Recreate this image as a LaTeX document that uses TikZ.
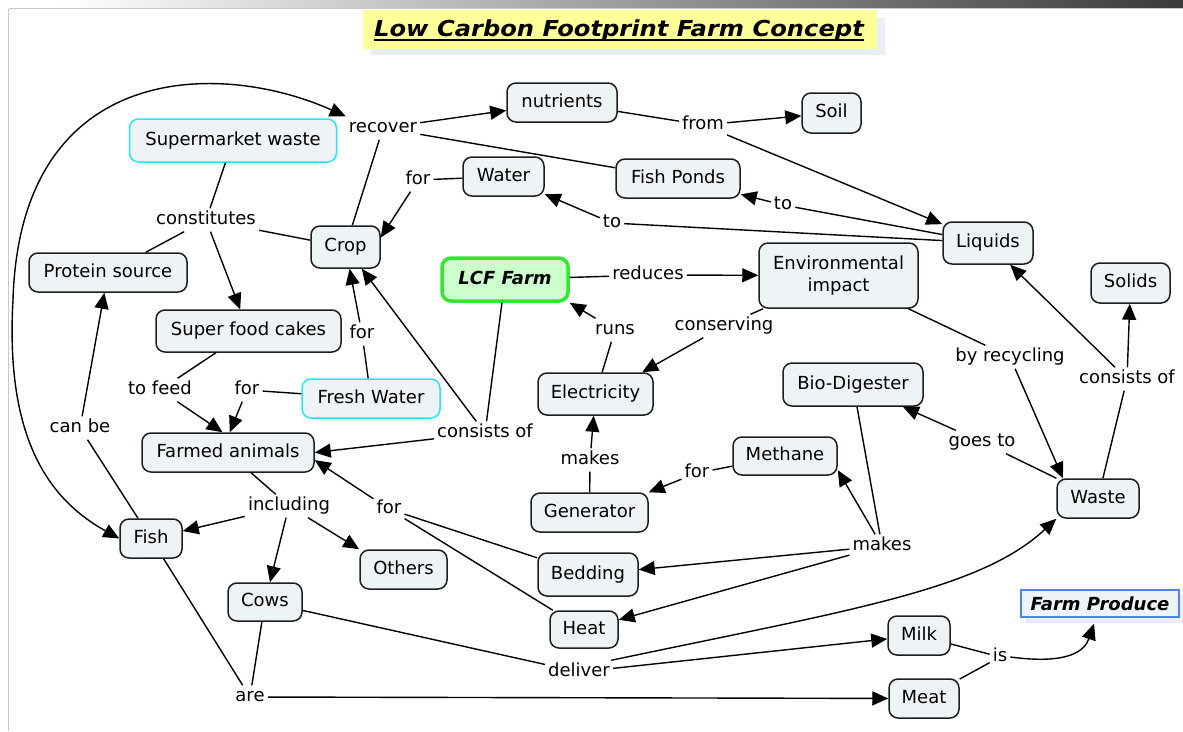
\documentclass[tikz,border=0pt]{standalone}
\usepackage{fontspec}
\setmainfont{DejaVu Sans}[BoldItalicFont={DejaVu Sans Bold Oblique},ItalicFont={DejaVu Sans Oblique},BoldFont={DejaVu Sans Bold}]
\usetikzlibrary{arrows.meta,calc}
\definecolor{nodefill}{RGB}{238,243,246}
\definecolor{bordc}{RGB}{30,30,30}
\definecolor{cyanb}{RGB}{40,228,245}
\definecolor{lcfb}{RGB}{50,230,50}
\definecolor{lcff}{RGB}{204,255,204}
\definecolor{prodb}{RGB}{80,130,240}
\definecolor{shadowc}{RGB}{232,238,243}
\definecolor{titlefill}{RGB}{255,255,153}
\newcommand{\cmfs}{\fontsize{18}{22}\selectfont}
\tikzset{
  cbox/.style={draw=bordc, line width=1.5pt, fill=nodefill, rounded corners=9pt,
    inner sep=2pt, font=\cmfs, text height=13pt, text depth=4pt, align=center},
  cyanbox/.style={cbox, draw=cyanb, line width=1.5pt},
  lbl/.style={inner sep=3pt, font=\cmfs, text height=13pt, text depth=4pt},
  ln/.style={line width=1.4pt, draw=black},
  arr/.style={ln, -{Triangle[length=16pt,width=14pt]}},
  dbl/.style={ln, {Triangle[length=16pt,width=14pt]}-{Triangle[length=16pt,width=14pt]}}
}
\begin{document}
\begin{tikzpicture}[x=1pt,y=-1pt]
\useasboundingbox (0,0) rectangle (1183,731);
\fill[white] (0,0) rectangle (1183,731);
% top bar and frame
\shade[left color=white, right color={rgb,255:red,58;green,58;blue,58}] (60,0) rectangle (1183,7.5);
\draw[line width=1.5pt, color={rgb,255:red,200;green,200;blue,200}] (8.5,8.5) -- (1183,8.5);
\draw[line width=1.5pt, color={rgb,255:red,200;green,200;blue,200}] (8.5,8.5) -- (8.5,731);
% title
\fill[shadowc] (371,18) rectangle (885,55);
\fill[titlefill] (363,10) rectangle (877,49);
\node[anchor=base, inner sep=0pt, font=\fontsize{22}{26}\selectfont\bfseries\itshape] (title) at (619,36) {\scalebox{1.1}[1]{Low Carbon Footprint Farm Concept}};
\draw[line width=2pt] ($(title.base west)+(0,3.5)$) -- ($(title.base east)+(0,3.5)$);

% concepts
\node[cyanbox, minimum width=207pt, minimum height=43pt] (sw) at (233,140.5) {Supermarket waste};
\node[cbox, minimum width=110pt, minimum height=39pt] (nut) at (562,102.5) {nutrients};
\node[cbox, minimum width=59pt, minimum height=40pt] (soil) at (831.5,113) {Soil};
\node[cbox, minimum width=81pt, minimum height=39pt] (water) at (503.5,176.5) {Water};
\node[cbox, minimum width=124pt, minimum height=39pt] (fp) at (678,178.5) {Fish Ponds};
\node[cbox, minimum width=69pt, minimum height=42pt] (crop) at (345.5,247) {Crop};
\node[cbox, minimum width=90pt, minimum height=42pt] (liq) at (988,243) {Liquids};
\node[cbox, minimum width=158pt, minimum height=39pt] (prot) at (108,272.5) {Protein source};
\node[cbox, draw=lcfb, fill=lcff, line width=3.5pt, minimum width=126pt, minimum height=43pt, font=\cmfs\bfseries\itshape] (lcf) at (505,279.5) {LCF Farm};
\node[cbox, minimum width=159pt, minimum height=65pt, text height=, text depth=] (env) at (838.5,275.5) {Environmental\\impact};
\node[cbox, minimum width=79pt, minimum height=40pt] (solids) at (1130.5,283) {Solids};
\node[cbox, minimum width=185pt, minimum height=42pt] (sfc) at (248.5,331) {Super food cakes};
\node[cyanbox, minimum width=138pt, minimum height=39pt] (fw) at (371,398.5) {Fresh Water};
\node[cbox, minimum width=115pt, minimum height=42pt] (elec) at (595.5,394) {Electricity};
\node[cbox, minimum width=140pt, minimum height=43pt] (bio) at (853,384.5) {Bio-Digester};
\node[cbox, minimum width=172pt, minimum height=39pt] (farm) at (228,452.5) {Farmed animals};
\node[cbox, minimum width=104pt, minimum height=38pt] (meth) at (785,456) {Methane};
\node[cbox, minimum width=82pt, minimum height=39pt] (waste) at (1098,498.5) {Waste};
\node[cbox, minimum width=117pt, minimum height=39pt] (gen) at (589.5,512.5) {Generator};
\node[cbox, minimum width=62pt, minimum height=39pt] (fish) at (151,538.5) {Fish};
\node[cbox, minimum width=100pt, minimum height=43pt] (bed) at (588,574.5) {Bedding};
\node[cbox, minimum width=87pt, minimum height=39pt] (oth) at (403.5,569.5) {Others};
\node[cbox, minimum width=74pt, minimum height=38pt] (cows) at (265,602) {Cows};
\fill[shadowc] (1026,595) rectangle (1184,623);
\node[draw=prodb, line width=1.5pt, fill=nodefill, inner sep=2pt, minimum width=158pt, minimum height=27pt, font=\cmfs\bfseries\itshape] (fprod) at (1100,603.5) {Farm Produce};
\node[cbox, minimum width=68pt, minimum height=37pt] (heat) at (584,629.5) {Heat};
\node[cbox, minimum width=62pt, minimum height=39pt] (milk) at (919,635.5) {Milk};
\node[cbox, minimum width=70pt, minimum height=39pt] (meat) at (924,698.5) {Meat};

% linking phrases
\node[lbl] (recover) at (383,128) {recover};
\node[lbl] (from) at (703,125) {from};
\node[lbl] (for1) at (418,180) {for};
\node[lbl] (to1) at (783,205) {to};
\node[lbl] (to2) at (612,223) {to};
\node[lbl] (constitutes) at (206,220) {constitutes};
\node[lbl] (reduces) at (648,275) {reduces};
\node[lbl] (runs) at (615,330) {runs};
\node[lbl] (conserving) at (724,326) {conserving};
\node[lbl] (byrec) at (1010,357) {by recycling};
\node[lbl] (cons2) at (1127,379) {consists of};
\node[lbl] (tofeed) at (160,390) {to feed};
\node[lbl] (for4) at (247,390) {for};
\node[lbl] (for5) at (362,334) {for};
\node[lbl] (canbe) at (80,428) {can be};
\node[lbl] (cons1) at (485,433) {consists of};
\node[lbl] (goesto) at (982,442) {goes to};
\node[lbl] (makes1) at (590,460) {makes};
\node[lbl] (for3) at (697,473) {for};
\node[lbl] (including) at (289,506) {including};
\node[lbl] (for6) at (389,509) {for};
\node[lbl] (makes2) at (882,546) {makes};
\node[lbl] (deliver) at (579,672) {deliver};
\node[lbl] (is) at (1000,657) {is};
\node[lbl] (are) at (250,697) {are};

% connectors
\draw[ln] (crop) -- (recover);
\draw[arr] (recover) -- (nut);
\draw[ln] (recover) -- (fp);
\draw[ln] (nut) -- (from);
\draw[arr] (from) -- (soil);
\draw[arr] (from) -- (liq);
\draw[ln] (water) -- (for1);
\draw[arr] (for1) -- (crop.15);
\draw[ln] (liq) -- (to1);
\draw[arr] (to1) -- (fp);
\draw[ln] (liq) -- (to2);
\draw[arr] (to2) -- (water);
\draw[ln] (sw) -- (constitutes);
\draw[ln] (constitutes) -- (prot);
\draw[arr] (constitutes) -- (sfc);
\draw[ln] (crop) -- (constitutes);
\draw[ln] (lcf) -- (reduces);
\draw[arr] (reduces) -- (env);
\draw[ln] (env) -- (conserving);
\draw[arr] (conserving) -- (elec.25);
\draw[ln] (elec) -- (runs);
\draw[arr] (runs) -- (lcf.south east);
\draw[ln] (env) -- (byrec);
\draw[arr] (byrec) -- (waste.150);
\draw[ln] (waste) -- (cons2);
\draw[arr] (cons2) -- (liq);
\draw[arr] (cons2) -- (solids);
\draw[ln] (waste) -- (goesto);
\draw[arr] (goesto) -- (bio);
\draw[ln] (bio) -- (makes2);
\draw[arr] (makes2) -- (meth.-15);
\draw[arr] (makes2) -- (bed);
\draw[arr] (makes2) -- (heat);
\draw[ln] (meth) -- (for3);
\draw[arr] (for3) -- (gen.north east);
\draw[ln] (gen) -- (makes1);
\draw[arr] (makes1) -- (elec);
\draw[ln] (sfc) -- (tofeed);
\draw[arr] (tofeed) -- (farm.105);
\draw[ln] (fw) -- (for4);
\draw[arr] (for4) -- (farm.85);
\draw[ln] (fw) -- (for5);
\draw[arr] (for5) -- (crop);
\draw[ln] (lcf) -- (cons1);
\draw[arr] (cons1) -- (crop);
\draw[arr] (cons1) -- (farm.east);
\draw[ln] (heat) -- (for6);
\draw[ln] (bed) -- (for6);
\draw[arr] (for6) -- (farm.-5);
\draw[ln] (farm) -- (including);
\draw[arr] (including) -- (fish);
\draw[arr] (including) -- (cows);
\draw[arr] (including) -- (oth.north west);
\draw[ln] (fish) -- (canbe);
\draw[arr] (canbe) -- (prot);
\draw[ln] (fish) -- (are);
\draw[ln] (cows) -- (are);
\draw[arr] (are) -- (meat);
\draw[ln] (cows) -- (deliver);
\draw[arr] (deliver) -- (milk);
\draw[arr] (deliver.20) .. controls (850,610) and (980,590) .. (waste.south west);
\draw[ln] (milk) -- (is);
\draw[ln] (meat) -- (is);
\draw[arr] (is.east) .. controls (1070,665) and (1085,650) .. ($(fprod.south)+(-6,6)$);
\draw[dbl] (recover.north west) .. controls (220,60) and (20,60) .. (13,300) .. controls (5,440) and (50,500) .. (fish.west);
\end{tikzpicture}
\end{document}
